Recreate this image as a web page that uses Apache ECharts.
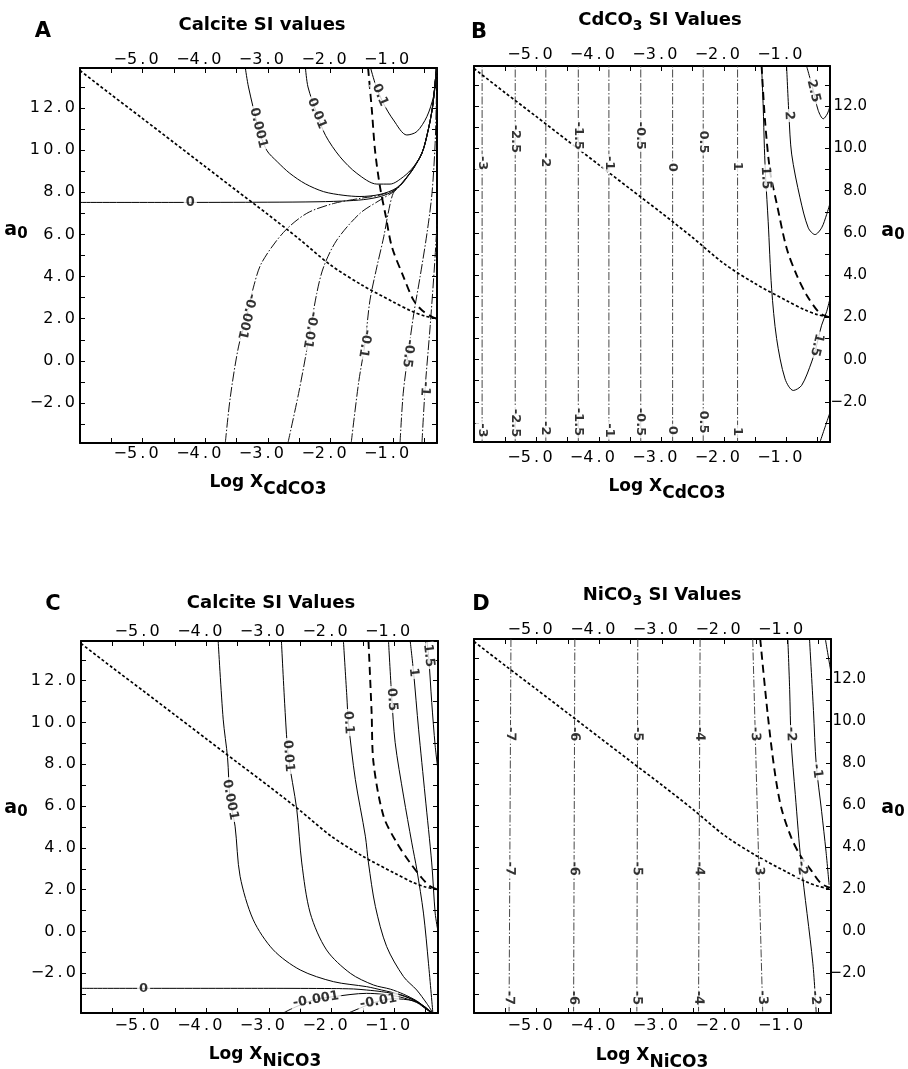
<!DOCTYPE html>
<html>
<head>
<meta charset="utf-8">
<script src="https://cdn.jsdelivr.net/npm/echarts@6/dist/echarts.min.js"></script>
<style>
  html, body { margin: 0; padding: 0; background: #fff; }
  #chart { width: 908px; height: 1069px; }
</style>
</head>
<body>
<div id="chart"></div>
<script>
// ---------- axis ticks ----------
const xTickValues = [-5.5, -5, -4.5, -4, -3.5, -3, -2.5, -2, -1.5, -1, -0.5];
const xLabelValues = [-5, -4, -3, -2, -1];
const yTickValues = [-3, -2, -1, 0, 1, 2, 3, 4, 5, 6, 7, 8, 9, 10, 11, 12, 13];
const yLabelValues = [-2, 0, 2, 4, 6, 8, 10, 12];

// ---------- lines shared by all four panels ----------
// short-dashed line running from the upper left to a0 = 2
const stabilityLine = [[-6, 13.78], [-5.5, 12.63], [-5, 11.5], [-4.5, 10.36], [-4, 9.22], [-3.5, 8.08],
  [-3, 6.95], [-2.5, 5.78], [-2, 4.55], [-1.5, 3.6], [-1.0, 2.8], [-0.7, 2.35], [-0.5, 2.13], [-0.3, 2.0]];

// ---------- A: calcite SI, Cd system ----------
const calciteCd_0 = [[-6, 7.52], [-4.5, 7.52], [-3, 7.53], [-2.2, 7.55], [-1.7, 7.6], [-1.4, 7.68], [-1.15, 7.85],
  [-0.94, 8.18], [-0.73, 8.9], [-0.54, 9.85], [-0.44, 10.95], [-0.37, 12.06], [-0.33, 13.2], [-0.31, 13.9]];
const calciteCd_p0001 = [[-3.36, 13.9], [-3.31, 13.0], [-3.15, 11.04], [-3.02, 10.0], [-2.85, 9.45], [-2.65, 8.9],
  [-2.4, 8.4], [-2.11, 8.03], [-1.8, 7.86], [-1.53, 7.8], [-1.21, 7.9], [-0.94, 8.22], [-0.73, 8.93],
  [-0.54, 9.87], [-0.44, 10.97], [-0.37, 12.08], [-0.33, 13.2], [-0.31, 13.9]];
const calciteCd_p001 = [[-2.4, 13.9], [-2.36, 13.0], [-2.22, 11.75], [-2.08, 10.7], [-1.85, 9.69], [-1.58, 8.9],
  [-1.26, 8.39], [-1.05, 8.39], [-0.835, 8.74], [-0.675, 9.21], [-0.54, 9.87], [-0.44, 10.97], [-0.37, 12.08],
  [-0.33, 13.2], [-0.31, 13.9]];
const calciteCd_p01 = [[-1.36, 13.9], [-1.28, 13.1], [-1.155, 12.22], [-0.995, 11.43], [-0.782, 10.72],
  [-0.622, 10.88], [-0.462, 11.59], [-0.356, 12.54], [-0.31, 13.4], [-0.3, 13.9]];
const calciteCd_m0001 = [[-3.68, -3.9], [-3.6, -1.72], [-3.47, 0.66], [-3.34, 2.08], [-3.23, 3.5], [-3.1, 4.65],
  [-2.75, 6.1], [-2.38, 7.0], [-1.95, 7.47], [-1.53, 7.71], [-1.21, 7.87], [-0.94, 8.2], [-0.73, 8.93],
  [-0.54, 9.87], [-0.44, 10.97], [-0.37, 12.08], [-0.33, 13.2], [-0.31, 13.9]];
const calciteCd_m001 = [[-2.68, -3.9], [-2.51, -1.55], [-2.38, 0.5], [-2.22, 3.2], [-2.11, 4.46], [-1.9, 5.73],
  [-1.53, 7.0], [-1.21, 7.63], [-0.94, 8.15], [-0.73, 8.9], [-0.54, 9.87], [-0.44, 10.97], [-0.37, 12.08],
  [-0.33, 13.2], [-0.31, 13.9]];
const calciteCd_m01 = [[-1.67, -3.9], [-1.55, -1.0], [-1.45, 0.82], [-1.37, 2.88], [-1.26, 4.46], [-1.15, 5.89],
  [-1.08, 7.0], [-1.0, 7.95], [-0.9, 8.3], [-0.73, 8.9], [-0.54, 9.85], [-0.44, 10.95], [-0.37, 12.06],
  [-0.33, 13.2], [-0.31, 13.9]];
const calciteCd_m05 = [[-0.89, -3.9], [-0.84, -1.56], [-0.76, 0.35], [-0.67, 2.25], [-0.57, 3.99], [-0.46, 6.05],
  [-0.38, 7.95], [-0.33, 10.3], [-0.31, 12.4], [-0.3, 13.9]];
const calciteCd_m1 = [[-0.54, -3.9], [-0.49, -1.32], [-0.41, 1.61], [-0.34, 4.5], [-0.3, 6.5]];
const boundaryCalciteCd = [[-1.4, 13.9], [-1.34, 11.9], [-1.29, 10.0], [-1.21, 8.26], [-1.12, 6.9], [-1.02, 5.41],
  [-0.835, 3.99], [-0.675, 2.88], [-0.54, 2.4], [-0.38, 2.09], [-0.3, 2.0]];

// ---------- B: CdCO3 SI ----------
const cdSiLevels = [-3, -2.5, -2, -1.5, -1, -0.5, 0, 0.5, 1];
const cdSiX = [-5.87, -5.34, -4.85, -4.33, -3.84, -3.33, -2.82, -2.33, -1.78];
const cdSiLabelTopY = [9.3, 10.45, 9.45, 10.6, 9.3, 10.6, 9.1, 10.3, 9.15];
const cdSiLabelBottomY = [-3.35, -3.0, -3.25, -2.95, -3.35, -2.95, -3.35, -2.95, -3.4];
const cdSi_15 = [[-1.395, 13.9], [-1.37, 12.0], [-1.35, 10.0], [-1.33, 8.6], [-1.29, 6.55], [-1.235, 3.38],
  [-1.155, 1.0], [-1.02, -0.91], [-0.888, -1.46], [-0.754, -1.22], [-0.594, -0.11], [-0.514, 0.68],
  [-0.434, 1.63], [-0.354, 2.27], [-0.3, 2.9]];
const cdSi_2 = [[-0.995, 13.9], [-0.957, 11.55], [-0.914, 9.73], [-0.78, 7.66], [-0.648, 6.24], [-0.54, 5.92],
  [-0.434, 6.24], [-0.354, 6.87], [-0.3, 7.4]];
const cdSi_25 = [[-0.675, 13.9], [-0.567, 12.74], [-0.488, 11.79], [-0.408, 11.4], [-0.344, 11.63], [-0.3, 12.0]];
const cdSi_corner = [[-0.46, -3.9], [-0.38, -3.2], [-0.3, -2.5]];
const boundaryCd = [[-1.395, 13.9], [-1.34, 11.3], [-1.26, 8.93], [-1.15, 7.35], [-0.995, 5.28], [-0.835, 4.01],
  [-0.675, 3.06], [-0.488, 2.27], [-0.38, 2.07], [-0.3, 2.0]];

// ---------- C: calcite SI, Ni system ----------
const calciteNi_0 = [[-6, -2.72], [-3, -2.72], [-2, -2.73], [-1.65, -2.75], [-1.44, -2.8], [-1.2, -2.88],
  [-0.9, -3.04], [-0.64, -3.36], [-0.48, -3.72], [-0.38, -3.9]];
const calciteNi_p0001 = [[-3.81, 13.9], [-3.73, 10.16], [-3.66, 8.32], [-3.62, 6.32], [-3.54, 5.04],
  [-3.46, 2.64], [-3.25, 0.56], [-2.93, -0.88], [-2.5, -1.84], [-1.97, -2.4], [-1.44, -2.64], [-1.2, -2.8],
  [-0.9, -3.02], [-0.64, -3.34], [-0.48, -3.7], [-0.38, -3.9]];
const calciteNi_p001 = [[-2.8, 13.9], [-2.74, 10.48], [-2.69, 8.4], [-2.555, 5.84], [-2.475, 3.28], [-2.34, 0.88],
  [-2.08, -0.88], [-1.7, -2.0], [-1.33, -2.56], [-1.06, -2.76], [-0.85, -3.0], [-0.64, -3.32], [-0.48, -3.68],
  [-0.38, -3.9]];
const calciteNi_p01 = [[-1.81, 13.9], [-1.756, 11.28], [-1.73, 10.0], [-1.62, 7.28], [-1.46, 4.56], [-1.41, 3.28],
  [-1.3, 1.2], [-1.12, -0.72], [-0.85, -2.16], [-0.64, -2.8], [-0.48, -3.44], [-0.38, -3.9]];
const calciteNi_p05 = [[-1.09, 13.9], [-1.04, 11.28], [-0.984, 9.04], [-0.85, 6.48], [-0.718, 4.24],
  [-0.638, 2.96], [-0.532, 0.88], [-0.452, -1.52], [-0.382, -3.9]];
const calciteNi_p1 = [[-0.744, 13.9], [-0.69, 12.4], [-0.61, 9.68], [-0.505, 6.48], [-0.4, 3.28], [-0.345, 0.88],
  [-0.3, 0.0]];
const calciteNi_p15 = [[-0.478, 13.9], [-0.45, 13.2], [-0.4, 10.96], [-0.345, 8.88], [-0.3, 7.7]];
const calciteNi_m0001 = [[-2.77, -3.9], [-2.61, -3.66], [-2.29, -3.28], [-1.97, -3.12], [-1.44, -2.96],
  [-1.2, -3.0], [-0.9, -3.14], [-0.64, -3.4], [-0.48, -3.74], [-0.4, -3.9]];
const calciteNi_m001 = [[-1.73, -3.9], [-1.54, -3.66], [-1.28, -3.36], [-1.01, -3.22], [-0.69, -3.32],
  [-0.5, -3.62], [-0.4, -3.9]];
const boundaryCalciteNi = [[-1.41, 13.9], [-1.36, 10.48], [-1.33, 8.08], [-1.17, 5.52], [-0.957, 4.24],
  [-0.744, 3.28], [-0.558, 2.56], [-0.425, 2.16], [-0.3, 2.0]];

// ---------- D: NiCO3 SI ----------
const niSiLevels = [-7, -6, -5, -4, -3];
const niSiTopX = [-5.41, -4.39, -3.385, -2.39, -1.55];
const niSiBottomX = [-5.44, -4.41, -3.4, -2.415, -1.39];
const niSiLabelRowY = [9.37, 2.97, -3.18];
const niSi_m2 = [[-0.989, 13.9], [-0.96, 11.5], [-0.936, 9.04], [-0.87, 6.5], [-0.776, 3.2], [-0.59, -1.53],
  [-0.536, -3.9]];
const niSi_m1 = [[-0.643, 13.9], [-0.58, 10.5], [-0.536, 7.93], [-0.45, 5.7], [-0.38, 3.8], [-0.33, 2.2]];
const niSi_edge = [[-0.39, 13.9], [-0.3, 12.3]];
const boundaryNi = [[-1.43, 13.9], [-1.31, 10.3], [-1.2, 7.62], [-1.095, 5.88], [-0.936, 4.46], [-0.776, 3.52],
  [-0.616, 2.89], [-0.457, 2.26], [-0.3, 2.05]];

// ---------- layout ----------
const X_MIN = -6, X_MAX = -0.3, Y_MIN = -3.9, Y_MAX = 13.9;
const panelLayout = [
  { grid: { left: 80, top: 68, width: 357, height: 375 }, yLabels: 'left', topMargin: 0, bottomMargin: 3 },
  { grid: { left: 474, top: 66, width: 356, height: 376 }, yLabels: 'right', topMargin: 3, bottomMargin: 8, rightMargin: 37 },
  { grid: { left: 81, top: 641, width: 357, height: 372 }, yLabels: 'left', topMargin: 1, bottomMargin: 5 },
  { grid: { left: 474, top: 639, width: 357, height: 374 }, yLabels: 'right', topMargin: 1, bottomMargin: 5, rightMargin: 35 }
];

// tick labels: typewriter-like spacing between the digits
const THIN = '\u2009';
function spacedTick(v) {
  const body = Math.abs(v).toFixed(1).split('').join(THIN);
  return (v < 0 ? '\u2212' : '') + body;
}
function plainTick(v) {
  return (v < 0 ? '\u2212' : '') + Math.abs(v).toFixed(1);
}
const tickFont = { fontFamily: 'DejaVu Sans', fontSize: 16, color: '#000' };
const rightTickFont = { fontFamily: 'DejaVu Sans', fontSize: 15, color: '#000' };

const solid = { type: 'solid', width: 1, color: '#000' };
const dashDot = { type: [10, 2, 1.5, 2], width: 1, color: '#111' };
const dashDotLight = { type: [8, 2, 1.5, 2], width: 0.9, color: '#333' };
const shortDash = { type: [3, 2.2], width: 1.7, color: '#000' };
const longDash = { type: [8, 5], width: 1.9, color: '#000' };

const xAxes = [], yAxes = [], grids = [];
panelLayout.forEach((p, i) => {
  grids.push(Object.assign({ containLabel: false }, p.grid));
  ['bottom', 'top'].forEach(pos => {
    xAxes.push({
      type: 'value', gridIndex: i, position: pos, min: X_MIN, max: X_MAX,
      axisLine: { show: true, onZero: false, lineStyle: { color: '#000', width: 2 } },
      axisTick: { show: true, inside: true, length: 5, customValues: xTickValues, lineStyle: { color: '#000', width: 1 } },
      axisLabel: Object.assign({
        show: true, customValues: xLabelValues, formatter: spacedTick,
        margin: pos === 'top' ? p.topMargin : p.bottomMargin, padding: [0, 13, 0, 0]
      }, tickFont),
      splitLine: { show: false }
    });
  });
  ['left', 'right'].forEach(pos => {
    const labelled = pos === p.yLabels;
    let lab;
    if (pos === 'right') {
      lab = Object.assign({ show: labelled, customValues: yLabelValues, formatter: plainTick,
        align: 'right', margin: p.rightMargin || 5 }, rightTickFont);
    } else {
      lab = Object.assign({ show: labelled, customValues: yLabelValues, formatter: spacedTick, margin: 5 }, tickFont);
    }
    yAxes.push({
      type: 'value', gridIndex: i, position: pos, min: Y_MIN, max: Y_MAX,
      axisLine: { show: true, onZero: false, lineStyle: { color: '#000', width: 2 } },
      axisTick: { show: true, inside: true, length: 5, customValues: yTickValues, lineStyle: { color: '#000', width: 1 } },
      axisLabel: lab,
      splitLine: { show: false }
    });
  });
});

function lineSeries(gi, data, style, smooth) {
  return {
    type: 'line', xAxisIndex: 2 * gi, yAxisIndex: 2 * gi, data: data,
    showSymbol: false, symbol: 'none', smooth: smooth === undefined ? 0.3 : smooth,
    lineStyle: style, silent: true, animation: false, clip: true, z: 2
  };
}

// curves and their contour labels per panel: [text, curve, hint x, hint y]
const lineSeriesList = [];
const labelSpecs = [[], [], [], []];

// A
lineSeriesList.push(lineSeries(0, calciteCd_0, solid));
lineSeriesList.push(lineSeries(0, calciteCd_p0001, solid));
lineSeriesList.push(lineSeries(0, calciteCd_p001, solid));
lineSeriesList.push(lineSeries(0, calciteCd_p01, solid));
lineSeriesList.push(lineSeries(0, calciteCd_m0001, dashDot));
lineSeriesList.push(lineSeries(0, calciteCd_m001, dashDot));
lineSeriesList.push(lineSeries(0, calciteCd_m01, dashDot));
lineSeriesList.push(lineSeries(0, calciteCd_m05, dashDot));
lineSeriesList.push(lineSeries(0, calciteCd_m1, dashDot));
lineSeriesList.push(lineSeries(0, stabilityLine, shortDash));
lineSeriesList.push(lineSeries(0, boundaryCalciteCd, longDash));
labelSpecs[0].push(
  ['0', calciteCd_0, -4.24, 7.52], ['0.001', calciteCd_p0001, -3.16, 11.05], ['0.01', calciteCd_p001, -2.21, 11.75],
  ['0.1', calciteCd_p01, -1.22, 12.6], ['-0.001', calciteCd_m0001, -3.33, 2.1], ['-0.01', calciteCd_m001, -2.4, 1.5],
  ['-0.1', calciteCd_m01, -1.45, 0.82], ['-0.5', calciteCd_m05, -0.76, 0.35], ['-1', calciteCd_m1, -0.49, -1.32]
);

// B
cdSiLevels.forEach((lv, k) => {
  const c = [[cdSiX[k], Y_MIN], [cdSiX[k], Y_MAX]];
  lineSeriesList.push(lineSeries(1, c, dashDotLight, false));
  labelSpecs[1].push([String(lv), c, cdSiX[k], cdSiLabelTopY[k]], [String(lv), c, cdSiX[k], cdSiLabelBottomY[k]]);
});
lineSeriesList.push(lineSeries(1, cdSi_15, solid));
lineSeriesList.push(lineSeries(1, cdSi_2, solid));
lineSeriesList.push(lineSeries(1, cdSi_25, solid));
lineSeriesList.push(lineSeries(1, cdSi_corner, solid));
lineSeriesList.push(lineSeries(1, stabilityLine, shortDash));
lineSeriesList.push(lineSeries(1, boundaryCd, longDash));
labelSpecs[1].push(
  ['2.5', cdSi_25, -0.58, 12.7], ['2', cdSi_2, -0.957, 11.55], ['1.5', cdSi_15, -1.33, 8.6], ['1.5', cdSi_15, -0.51, 0.7]
);

// C
lineSeriesList.push(lineSeries(2, calciteNi_0, solid));
lineSeriesList.push(lineSeries(2, calciteNi_p0001, solid));
lineSeriesList.push(lineSeries(2, calciteNi_p001, solid));
lineSeriesList.push(lineSeries(2, calciteNi_p01, solid));
lineSeriesList.push(lineSeries(2, calciteNi_p05, solid));
lineSeriesList.push(lineSeries(2, calciteNi_p1, solid));
lineSeriesList.push(lineSeries(2, calciteNi_p15, solid));
lineSeriesList.push(lineSeries(2, calciteNi_m0001, solid));
lineSeriesList.push(lineSeries(2, calciteNi_m001, solid));
lineSeriesList.push(lineSeries(2, stabilityLine, shortDash));
lineSeriesList.push(lineSeries(2, boundaryCalciteNi, longDash));
labelSpecs[2].push(
  ['0', calciteNi_0, -5.0, -2.72], ['0.001', calciteNi_p0001, -3.62, 6.3], ['0.01', calciteNi_p001, -2.69, 8.4],
  ['0.1', calciteNi_p01, -1.73, 10.0], ['0.5', calciteNi_p05, -1.03, 11.1], ['1', calciteNi_p1, -0.69, 12.4],
  ['1.5', calciteNi_p15, -0.45, 13.2], ['-0.001', calciteNi_m0001, -2.25, -3.25], ['-0.01', calciteNi_m001, -1.25, -3.35]
);

// D
niSiLevels.forEach((lv, k) => {
  const c = [[niSiTopX[k], Y_MAX], [niSiBottomX[k], Y_MIN]];
  lineSeriesList.push(lineSeries(3, c, dashDotLight, false));
  niSiLabelRowY.forEach(y => labelSpecs[3].push([String(lv), c, niSiTopX[k], y]));
});
lineSeriesList.push(lineSeries(3, niSi_m2, solid));
lineSeriesList.push(lineSeries(3, niSi_m1, solid));
lineSeriesList.push(lineSeries(3, niSi_edge, solid));
lineSeriesList.push(lineSeries(3, stabilityLine, shortDash));
lineSeriesList.push(lineSeries(3, boundaryNi, longDash));
labelSpecs[3].push(
  ['-2', niSi_m2, -0.95, 9.37], ['-2', niSi_m2, -0.82, 2.97], ['-2', niSi_m2, -0.58, -3.18], ['-1', niSi_m1, -0.5, 7.62]
);

// ---------- headings (centred multi-part text with subscripts) ----------
const measureCtx = document.createElement('canvas').getContext('2d');
function boldFont(size) { return 'bold ' + size + 'px "DejaVu Sans"'; }
function compose(cx, cy, parts) {
  const widths = parts.map(p => { measureCtx.font = boldFont(p[1]); return measureCtx.measureText(p[0]).width; });
  const total = widths.reduce((a, b) => a + b, 0);
  let x = cx - total / 2;
  return parts.map((p, i) => {
    const el = {
      type: 'text', x: x, y: cy + p[2], silent: true,
      style: { text: p[0], font: boldFont(p[1]), fill: '#000', align: 'left', verticalAlign: 'middle' }
    };
    x += widths[i];
    return el;
  });
}
const headings = [].concat(
  compose(43, 32, [['A', 21, 0]]),
  compose(262, 25, [['Calcite SI values', 18, 0]]),
  compose(479, 33, [['B', 21, 0]]),
  compose(660, 20, [['CdCO', 18, 0], ['3', 14, 6], [' SI Values', 18, 0]]),
  compose(53, 605, [['C', 21, 0]]),
  compose(271, 603, [['Calcite SI Values', 18, 0]]),
  compose(481, 605, [['D', 21, 0]]),
  compose(662, 595, [['NiCO', 18, 0], ['3', 14, 6], [' SI Values', 18, 0]]),
  compose(268, 483, [['Log X', 17, 0], ['CdCO3', 17, 7]]),
  compose(667, 487, [['Log X', 17, 0], ['CdCO3', 17, 7]]),
  compose(265, 1055, [['Log X', 17, 0], ['NiCO3', 17, 7]]),
  compose(652, 1056, [['Log X', 17, 0], ['NiCO3', 17, 7]]),
  compose(16, 230, [['a', 19, 0], ['0', 15, 4]]),
  compose(893, 231, [['a', 19, 0], ['0', 15, 4]]),
  compose(16, 808, [['a', 19, 0], ['0', 15, 4]]),
  compose(893, 808, [['a', 19, 0], ['0', 15, 4]])
);

const chart = echarts.init(document.getElementById('chart'), null, { renderer: 'canvas' });
chart.setOption({
  animation: false,
  backgroundColor: '#fff',
  grid: grids,
  xAxis: xAxes,
  yAxis: yAxes,
  graphic: { elements: headings },
  series: lineSeriesList
});

// ---------- contour labels placed on their curves, rotated along them ----------
function placeLabel(gi, spec) {
  const finder = { xAxisIndex: 2 * gi, yAxisIndex: 2 * gi };
  const pts = spec[1].map(p => chart.convertToPixel(finder, p));
  const h = chart.convertToPixel(finder, [spec[2], spec[3]]);
  let best = null;
  for (let i = 0; i < pts.length - 1; i++) {
    const a = pts[i], b = pts[i + 1];
    const dx = b[0] - a[0], dy = b[1] - a[1];
    const L2 = dx * dx + dy * dy || 1;
    let t = ((h[0] - a[0]) * dx + (h[1] - a[1]) * dy) / L2;
    t = Math.max(0, Math.min(1, t));
    const px = a[0] + t * dx, py = a[1] + t * dy;
    const d = (px - h[0]) * (px - h[0]) + (py - h[1]) * (py - h[1]);
    if (!best || d < best.d) best = { d, px, py, dx, dy };
  }
  let ang = Math.atan2(-best.dy, best.dx) * 180 / Math.PI;
  if (ang > 90) ang -= 180;
  if (ang <= -90) ang += 180;
  if (ang > 45) ang -= 180;
  const v = chart.convertFromPixel(finder, [best.px, best.py]);
  return { value: v, label: { rotate: ang, formatter: spec[0] } };
}

const labelSeries = labelSpecs.map((specs, gi) => ({
  type: 'scatter', xAxisIndex: 2 * gi, yAxisIndex: 2 * gi, silent: true, z: 5,
  symbolSize: 1, itemStyle: { color: 'rgba(0,0,0,0)' },
  data: specs.map(s => placeLabel(gi, s)),
  label: {
    show: true, position: 'inside', fontFamily: 'DejaVu Sans', fontWeight: 'bold', fontSize: 13,
    color: '#000', backgroundColor: '#fff', padding: [0, 2]
  }
}));

chart.setOption({ series: lineSeriesList.concat(labelSeries) });
</script>
</body>
</html>
